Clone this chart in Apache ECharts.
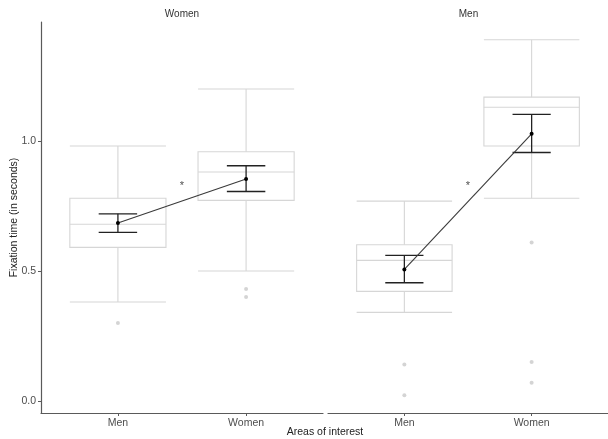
<!DOCTYPE html>
<html>
<head>
<meta charset="utf-8">
<script src="https://cdn.jsdelivr.net/npm/echarts@6/dist/echarts.min.js"></script>
<style>html,body{margin:0;padding:0;background:#fff;}#c{width:608px;height:439px;}</style>
</head>
<body>
<div id="c"></div>
<script>
// ---- data ----
const panels = ['Women', 'Men'];            // facet (strip) titles
const categories = ['Men', 'Women'];        // areas of interest
const yTicks = [0, 0.5, 1.0];
// box stats: [lower whisker, Q1, median, Q3, upper whisker]
const boxWomenPanel = [[0.381, 0.591, 0.680, 0.780, 0.981], [0.500, 0.772, 0.881, 0.959, 1.200]];
const boxMenPanel   = [[0.341, 0.422, 0.541, 0.601, 0.769], [0.780, 0.981, 1.130, 1.169, 1.390]];
const outWomenPanel = [[1, 0.300], [2, 0.431], [2, 0.400]];
const outMenPanel   = [[1, 0.141], [1, 0.022], [2, 0.610], [2, 0.150], [2, 0.070]];
const meanWomenPanel = [0.685, 0.854];
const loWomenPanel   = [0.649, 0.806];
const hiWomenPanel   = [0.720, 0.905];
const meanMenPanel = [0.506, 1.028];
const loMenPanel   = [0.455, 0.956];
const hiMenPanel   = [0.560, 1.103];
const sigMarks = [[1.5, 0.84, '*']];

const boxes = [boxWomenPanel, boxMenPanel];
const outs = [outWomenPanel, outMenPanel];
const means = [meanWomenPanel, meanMenPanel];
const los = [loWomenPanel, loMenPanel];
const his = [hiWomenPanel, hiMenPanel];

const BOX_W = 0.75, ERR_W = 0.3;
const BOX_COLOR = '#d6d6d6';
const FONT = 'Liberation Sans, Arial, sans-serif';

const chart = echarts.init(document.getElementById('c'), null, {renderer: 'canvas'});

function boxRender(params, api) {
  const x = api.value(0);
  const lo = api.value(1), q1 = api.value(2), md = api.value(3), q3 = api.value(4), hi = api.value(5);
  const h = BOX_W / 2;
  const tl = api.coord([x - h, q3]), br = api.coord([x + h, q1]);
  const mL = api.coord([x - h, md]), mR = api.coord([x + h, md]);
  const cLo = api.coord([x, lo]), cQ1 = api.coord([x, q1]), cQ3 = api.coord([x, q3]), cHi = api.coord([x, hi]);
  const lL = api.coord([x - h, lo]), lR = api.coord([x + h, lo]);
  const hL = api.coord([x - h, hi]), hR = api.coord([x + h, hi]);
  const st = {stroke: BOX_COLOR, lineWidth: 1.1, fill: null};
  const line = (a, b) => ({type: 'line', shape: {x1: a[0], y1: a[1], x2: b[0], y2: b[1]}, style: st});
  return {type: 'group', children: [
    line(cQ3, cHi), line(cQ1, cLo), line(lL, lR), line(hL, hR),
    {type: 'rect', shape: {x: tl[0], y: tl[1], width: br[0] - tl[0], height: br[1] - tl[1]}, style: st},
    line(mL, mR)
  ]};
}

function errRender(params, api) {
  const x = api.value(0), lo = api.value(1), hi = api.value(2);
  const h = ERR_W / 2;
  const a = api.coord([x, lo]), b = api.coord([x, hi]);
  const l1 = api.coord([x - h, lo]), r1 = api.coord([x + h, lo]);
  const l2 = api.coord([x - h, hi]), r2 = api.coord([x + h, hi]);
  const st = {stroke: '#222', lineWidth: 1.3};
  const line = (p, q) => ({type: 'line', shape: {x1: p[0], y1: p[1], x2: q[0], y2: q[1]}, style: st});
  return {type: 'group', children: [line(a, b), line(l1, r1), line(l2, r2)]};
}

const grids = [
  {left: 41, top: 22, width: 282, height: 391},
  {left: 328, top: 22, width: 281, height: 391}
];

const xAxes = [0, 1].map(i => ({
  type: 'value', gridIndex: i, min: 0.4, max: 2.6,
  splitLine: {show: false},
  axisLine: {show: true, onZero: false, lineStyle: {color: '#5a5a5a', width: 1.2}},
  axisTick: {show: true, customValues: [1, 2], length: 3, lineStyle: {color: '#5a5a5a'}},
  axisLabel: {customValues: [1, 2], formatter: v => categories[Math.round(v) - 1], color: '#4d4d4d',
    fontSize: 10.5, fontFamily: FONT, margin: 5}
}));

const yAxes = [0, 1].map(i => ({
  type: 'value', gridIndex: i, min: -0.046, max: 1.458,
  show: i === 0,
  splitLine: {show: false},
  axisLine: {show: true, lineStyle: {color: '#5a5a5a', width: 1.2}},
  axisTick: {show: true, customValues: yTicks, length: 3, lineStyle: {color: '#5a5a5a'}},
  axisLabel: {customValues: yTicks, formatter: v => v.toFixed(1), color: '#4d4d4d',
    fontSize: 10.5, fontFamily: FONT, margin: 5}
}));

const series = [];
[0, 1].forEach(p => {
  series.push({
    type: 'custom', xAxisIndex: p, yAxisIndex: p, renderItem: boxRender, z: 1,
    data: categories.map((c, i) => [i + 1].concat(boxes[p][i])), silent: true
  });
  series.push({
    type: 'scatter', xAxisIndex: p, yAxisIndex: p, z: 2, symbolSize: 4,
    itemStyle: {color: '#c9c9c9'}, data: outs[p], silent: true
  });
  series.push({
    type: 'line', xAxisIndex: p, yAxisIndex: p, z: 4,
    data: categories.map((c, i) => [i + 1, means[p][i]]),
    lineStyle: {color: '#3a3a3a', width: 1.1},
    symbol: 'circle', symbolSize: 4, itemStyle: {color: '#000'}, silent: true
  });
  series.push({
    type: 'custom', xAxisIndex: p, yAxisIndex: p, renderItem: errRender, z: 3,
    data: categories.map((c, i) => [i + 1, los[p][i], his[p][i]]), silent: true
  });
  series.push({
    type: 'scatter', xAxisIndex: p, yAxisIndex: p, z: 5, symbolSize: 0,
    data: sigMarks.map(s => [s[0], s[1], s[2]]),
    label: {show: true, position: 'inside', formatter: d => d.value[2], color: '#222',
      fontSize: 11, fontFamily: FONT, offset: [0, 3]}, silent: true
  });
});

chart.setOption({
  animation: false,
  backgroundColor: '#fff',
  grid: grids,
  xAxis: xAxes,
  yAxis: yAxes,
  series: series,
  graphic: [
    {type: 'text', x: 41 + 141, y: 14, style: {text: panels[0], fill: '#333', font: '10px ' + FONT, align: 'center', verticalAlign: 'middle'}},
    {type: 'text', x: 328 + 140.5, y: 14, style: {text: panels[1], fill: '#333', font: '10px ' + FONT, align: 'center', verticalAlign: 'middle'}},
    {type: 'text', x: 325, y: 432, style: {text: 'Areas of interest', fill: '#222', font: '10.5px ' + FONT, align: 'center', verticalAlign: 'middle'}},
    {type: 'text', x: 14, y: 217.5, rotation: Math.PI / 2, style: {text: 'Fixation time (in seconds)', fill: '#222', font: '10.5px ' + FONT, align: 'center', verticalAlign: 'middle'}}
  ]
});
</script>
</body>
</html>
